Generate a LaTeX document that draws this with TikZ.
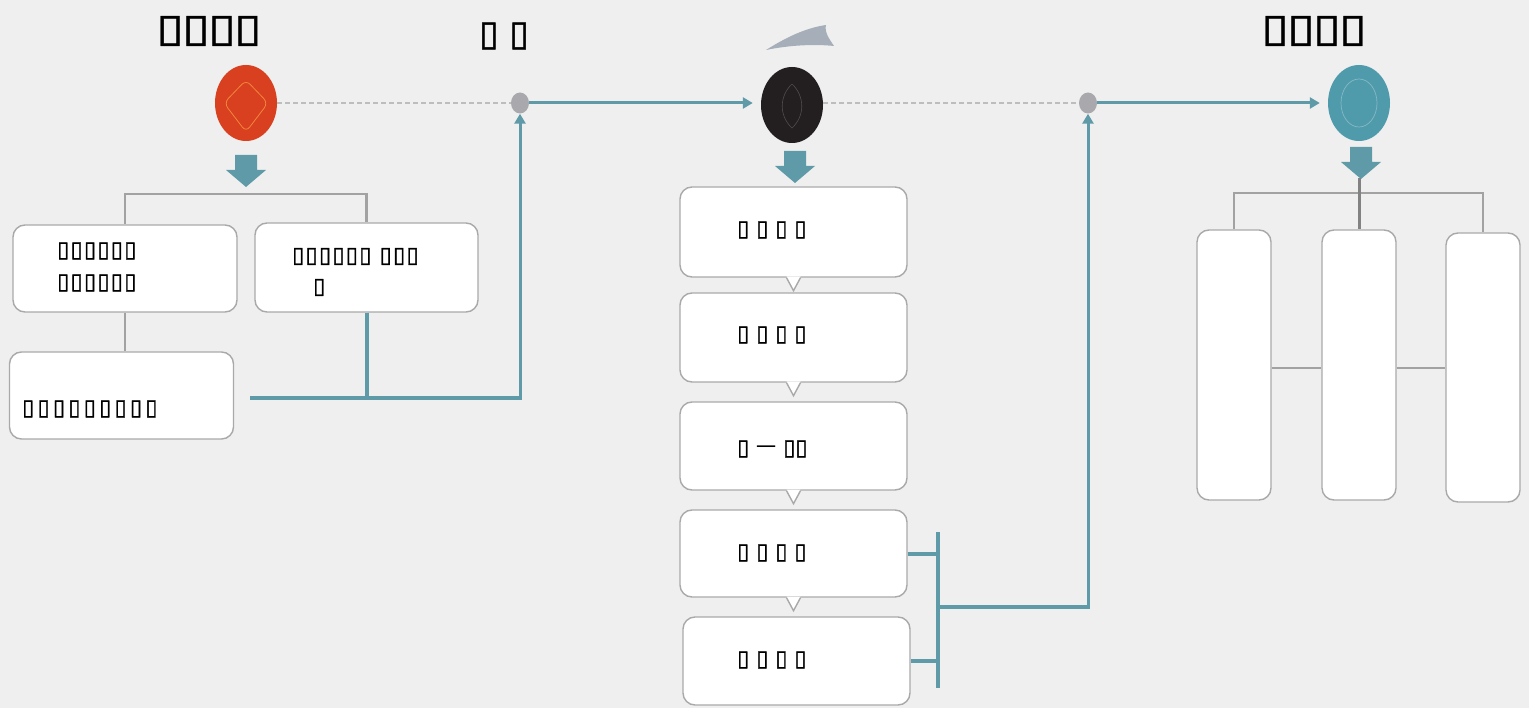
\documentclass[tikz,border=0pt]{standalone}
\usepackage{fontspec}
\newfontfamily\bxt[FakeStretch=1.3, FakeBold=1.2]{DejaVu Sans}
\newfontfamily\bx[FakeBold=1.5]{DejaVu Sans}
\newfontfamily\cjk{Noto Sans CJK SC}
\usetikzlibrary{arrows.meta,shapes.geometric,calc}
\definecolor{bgc}{HTML}{EFEFEF}
\definecolor{tealc}{HTML}{5E9AA8}
\definecolor{tealnode}{HTML}{4F9BAC}
\definecolor{redc}{HTML}{D8401F}
\definecolor{blackc}{HTML}{231F20}
\definecolor{dotc}{HTML}{A9A8AD}
\definecolor{boxline}{HTML}{A9A9A9}
\definecolor{treec}{HTML}{A2A2A2}
\definecolor{dashc}{HTML}{BDBDBD}
\definecolor{blobc}{HTML}{8E9AA8}
\tikzset{
  cardbox/.style={draw=boxline, line width=1.4pt, fill=white, rounded corners=12pt, inner sep=0pt},
  treeline/.style={draw=treec, line width=2.5pt},
  flowline/.style={draw=tealc, line width=4pt},
  flowarrow/.style={draw=tealc, line width=3pt, -{Triangle[length=10pt,width=11pt]}},
  dashline/.style={draw=dashc, line width=1.3pt, dash pattern=on 5pt off 3pt},
  graydot/.style={ellipse, fill=dotc, minimum width=18pt, minimum height=21pt, inner sep=0pt},
  bignode/.style={ellipse, minimum width=62pt, minimum height=76pt, inner sep=0pt},
  title/.style={font=\bxt\fontsize{39}{44}\selectfont\addfontfeatures{LetterSpace=-5}, inner sep=0pt},
  lbl/.style={font=\bx\fontsize{22}{31}\selectfont, inner sep=0pt, anchor=west, align=left},
  downarr/.pic={\fill[tealc] (-11,0) -- (11,0) -- (11,15) -- (20,15) -- (0,32) -- (-20,15) -- (-11,15) -- cycle;},
  notch/.pic={\fill[white] (-7,-1.2) -- (0,13) -- (7,-1.2) -- cycle;
              \draw[boxline, line width=1.4pt] (-7,0) -- (0,13) -- (7,0);}
}
\begin{document}
\begin{tikzpicture}[x=1pt,y=-1pt]
\path[fill=bgc, use as bounding box] (0,0) rectangle (1529,708);

% titles
\node[title] (t1) at (209,31) {▯▯▯▯};
\node[inner sep=0pt, font=\bx\fontsize{35}{40}\selectfont] (t2) at (504,36) {▯ ▯};
\node[title] (t3) at (1314,31) {▯▯▯▯};
% faint decoration
\fill[blobc, opacity=0.75] (766,50) .. controls (785,38) and (805,28) .. (826,25) .. controls (824,32) and (830,40) .. (834,46) .. controls (815,44) and (790,45) .. (766,50) -- cycle;

% main nodes
\node[bignode, fill=redc] (red) at (246,103) {};
\draw[orange!60!redc!80!white, line width=0.8pt, rounded corners=6pt] (246,80) -- (268,103) -- (246,132) -- (224,103) -- cycle;
\node[graydot] (d1) at (520,103) {};
\node[bignode, fill=blackc] (blk) at (792,105) {};
\draw[blackc!80!white, line width=0.6pt] (792,84) .. controls (780,95) and (778,115) .. (792,128) .. controls (806,115) and (804,95) .. (792,84);
\node[graydot] (d2) at (1088,103) {};
\node[bignode, fill=tealnode] (tl) at (1359,103) {};
\draw[tealnode!70!white, line width=0.7pt] (1359,103) ellipse (18pt and 24pt);

\draw[dashline] (red.east) -- (d1.west);
\draw[dashline] (blk.east |- d2.west) -- (d2.west);
\draw[flowarrow, shorten >=8pt] (d1.east) -- (d1.east -| blk.west);
\draw[flowarrow, shorten >=8pt] (d2.east) -- (tl.west);

% down arrows
\pic at (246,155) {downarr};
\pic at (795,151) {downarr};
\pic at (1361,147) {downarr};

% left tree
\node[cardbox, minimum width=224pt, minimum height=87pt] (ba) at (125,268.5) {};
\node[cardbox, minimum width=223pt, minimum height=89pt] (bb) at (366.5,267.5) {};
\node[cardbox, minimum width=224pt, minimum height=87pt] (bc) at (121.5,395.5) {};
\coordinate (lt) at (246,194);
\draw[treeline] (ba.north) |- (lt) -| (bb.north);
\draw[treeline] (ba.south) -- (ba.south |- bc.north);
\node[lbl, font=\bx\fontsize{22}{32}\selectfont\addfontfeatures{LetterSpace=6}] (ta) at (57,267) {▯▯▯▯▯▯\\▯▯▯▯▯▯};
\node[lbl, font=\bx\fontsize{22}{31}\selectfont\addfontfeatures{LetterSpace=6}] (tb) at (292,272) {▯▯▯▯▯▯ ▯▯▯\\\hspace*{21pt}▯};
\node[lbl, font=\bx\fontsize{22}{31}\selectfont\addfontfeatures{LetterSpace=15}] (tc) at (22,409) {▯▯▯▯▯▯▯▯▯};
\coordinate (jl) at (250,398);
\coordinate (jm) at (366.5,398);
\draw[flowline] (jl) -- (520,398);
\draw[flowline] (bb.south) -- (jm);
\draw[flowarrow] (520,400) -- (d1.south);

% middle column
\node[cardbox, minimum width=227pt, minimum height=90pt] (m1) at (793.5,232) {};
\node[cardbox, minimum width=227pt, minimum height=89pt] (m2) at (793.5,337.5) {};
\node[cardbox, minimum width=227pt, minimum height=88pt] (m3) at (793.5,446) {};
\node[cardbox, minimum width=227pt, minimum height=87pt] (m4) at (793.5,553.5) {};
\node[cardbox, minimum width=227pt, minimum height=88pt] (m5) at (796.5,661) {};
\pic at (m1.south) {notch};
\pic at (m2.south) {notch};
\pic at (m3.south) {notch};
\pic at (m4.south) {notch};
\node[lbl] (x1) at (737,230) {▯ ▯ ▯ ▯};
\node[lbl] (x2) at (737,335) {▯ ▯ ▯ ▯};
\node[lbl] (x3) at (737,449) {▯ {\cjk\fontsize{20}{24}\selectfont 一} ▯▯};
\node[lbl] (x4) at (737,553) {▯ ▯ ▯ ▯};
\node[lbl] (x5) at (737,660) {▯ ▯ ▯ ▯};

\coordinate (bt) at (938,532);
\coordinate (bbm) at (938,688);
\coordinate (bj) at (938,607);
\draw[flowline] (bt) -- (bbm);
\draw[flowline] (m4.east) -- (m4.east -| bt);
\draw[flowline] (m5.east) -- (m5.east -| bt);
\draw[flowline] (bj) -- (1088,607);
\draw[flowarrow] (1088,609) -- (d2.south);

% right group
\node[cardbox, minimum width=74pt, minimum height=270pt] (r1) at (1234,365) {};
\node[cardbox, minimum width=74pt, minimum height=270pt] (r2) at (1359,365) {};
\node[cardbox, minimum width=74pt, minimum height=269pt] (r3) at (1483,367.5) {};
\coordinate (rt) at (1359,193);
\draw[treeline, line width=1.8pt] (r1.north) |- (rt) -| (r3.north);
\draw[treeline, line width=3pt, draw=treec!80!black] (1359,178) -- (r2.north);
\draw[treeline, line width=1.6pt] (r1.east |- 0,368) -- (r2.west |- 0,368);
\draw[treeline, line width=1.6pt] (r2.east |- 0,368) -- (r3.west |- 0,368);
\end{tikzpicture}
\end{document}
